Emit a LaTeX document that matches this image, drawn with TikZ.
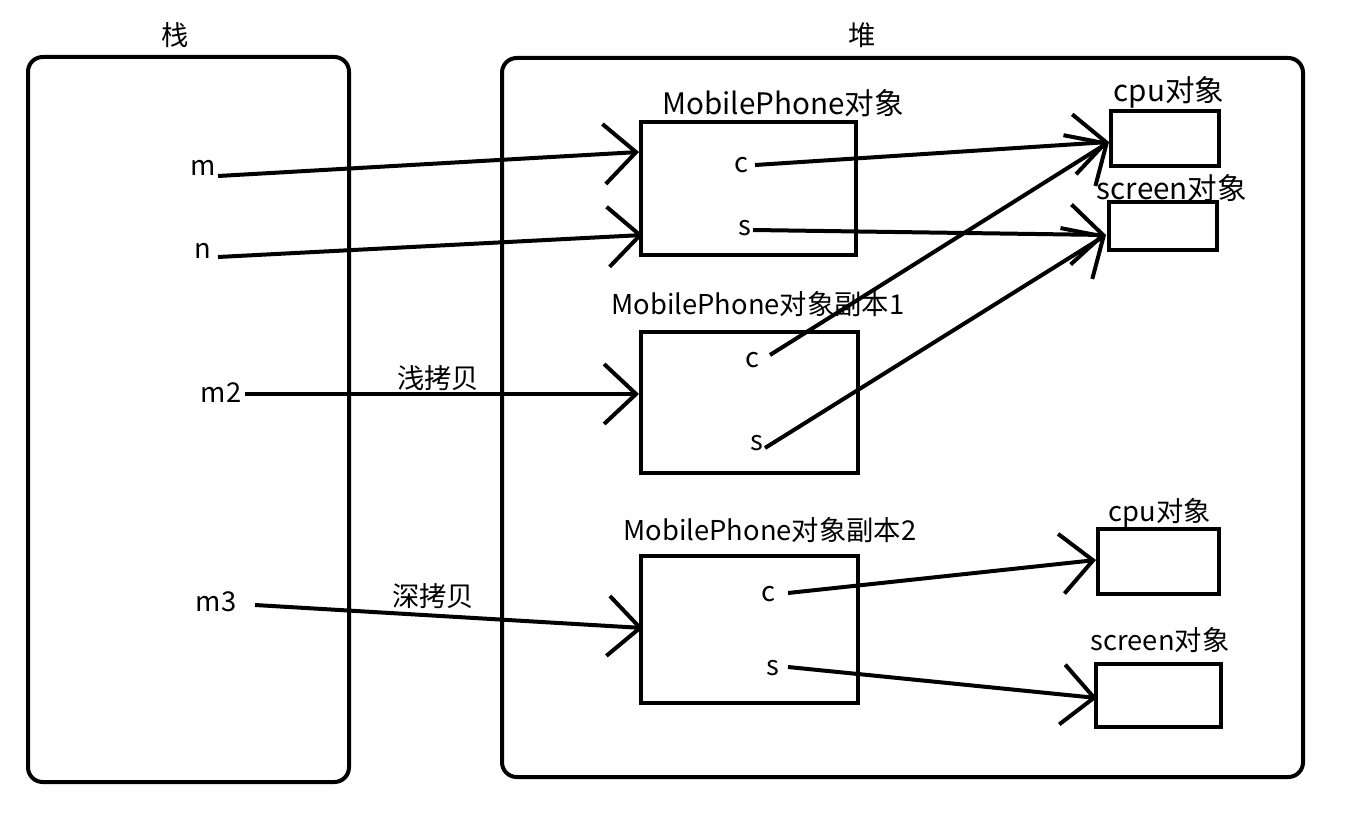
\documentclass[tikz,border=0pt]{standalone}
\usepackage{fontspec}
\setmainfont{Noto Sans CJK SC}
\usetikzlibrary{arrows.meta}
\newlength\px
\setlength\px{0.75pt}
\tikzset{
  bx/.style={draw, line width=3pt, minimum width=#1, inner sep=0pt},
  lbl/.style={font=\fontsize{20.5}{23}\selectfont, inner sep=0pt},
  biglbl/.style={font=\fontsize{22.2}{25}\selectfont, inner sep=0pt},
  arr/.style={line width=3pt, -{Straight Barb[length=24pt, width=45pt]}},
}
\begin{document}
\begin{tikzpicture}[x=0.75pt, y=-0.75pt]
\useasboundingbox (0,0) rectangle (1349,813);
% containers
\node[bx=321\px, minimum height=725\px, rounded corners=11pt] (stack) at (188.5,419.5) {};
\node[bx=801\px, minimum height=719\px, rounded corners=11pt] (heap) at (902.5,417.5) {};
\node[lbl] (stackL) at (175,35) {栈};
\node[lbl] (heapL) at (862,35) {堆};
% boxes
\node[bx=215\px, minimum height=133\px] (mp) at (748.5,188.5) {};
\node[bx=108\px, minimum height=55\px] (cpu1) at (1165,138.5) {};
\node[bx=108\px, minimum height=48\px] (scr1) at (1163,226) {};
\node[bx=217\px, minimum height=141\px] (mp1) at (749.5,402.5) {};
\node[bx=217\px, minimum height=147\px] (mp2) at (749.5,629.5) {};
\node[bx=121\px, minimum height=65\px] (cpu2) at (1158.5,561.5) {};
\node[bx=125\px, minimum height=63\px] (scr2) at (1158.5,695.5) {};
% box labels
\node[biglbl] (mpL) at (783,103) {MobilePhone对象};
\node[biglbl] (cpu1L) at (1169,92) {cpu对象};
\node[biglbl] (scr1L) at (1172,188) {screen对象};
\node[lbl] (mp1L) at (758,304) {MobilePhone对象副本1};
\node[lbl] (mp2L) at (770,530) {MobilePhone对象副本2};
\node[lbl] (cpu2L) at (1160,513) {cpu对象};
\node[lbl] (scr2L) at (1160,640) {screen对象};
% variable labels
\node[lbl] (m) at (203,168) {m};
\node[lbl] (n) at (203,251) {n};
\node[lbl] (m2) at (221,393) {m2};
\node[lbl] (m3) at (216,602) {m3};
\node[lbl] (c0) at (741,165) {c};
\node[lbl] (s0) at (745,228) {s};
\node[lbl] (c1) at (752,360) {c};
\node[lbl] (s1) at (757,443) {s};
\node[lbl] (c2) at (768,594) {c};
\node[lbl] (s2) at (773,668) {s};
\node[lbl] (shallow) at (438,378) {浅拷贝};
\node[lbl] (deep) at (433,596) {深拷贝};
% arrows
\draw[arr] ([shift={(15,8)}]m.center) -- ([shift={(0,-36.5)}]mp.west);
\draw[arr] ([shift={(15,6)}]n.center) -- ([shift={(4,46.5)}]mp.west);
\draw[arr] ([shift={(24,1)}]m2.center) -- ([shift={(0,-8.5)}]mp1.west);
\draw[arr] ([shift={(39,3)}]m3.center) -- ([shift={(4,-1.5)}]mp2.west);
\draw[arr] ([shift={(14,0)}]c0.center) -- ([shift={(0,3.5)}]cpu1.west);
\draw[arr] ([shift={(8,2)}]s0.center) -- ([shift={(-1,9)}]scr1.west);
\draw[arr] ([shift={(18,-5)}]c1.center) -- ([shift={(0,3.5)}]cpu1.west);
\draw[arr] ([shift={(8,5)}]s1.center) -- ([shift={(-1,9)}]scr1.west);
\draw[arr] ([shift={(20,-1)}]c2.center) -- ([shift={(0,-1.5)}]cpu2.west);
\draw[arr] ([shift={(15,-1)}]s2.center) -- ([shift={(3,2.5)}]scr2.west);
\end{tikzpicture}
\end{document}
